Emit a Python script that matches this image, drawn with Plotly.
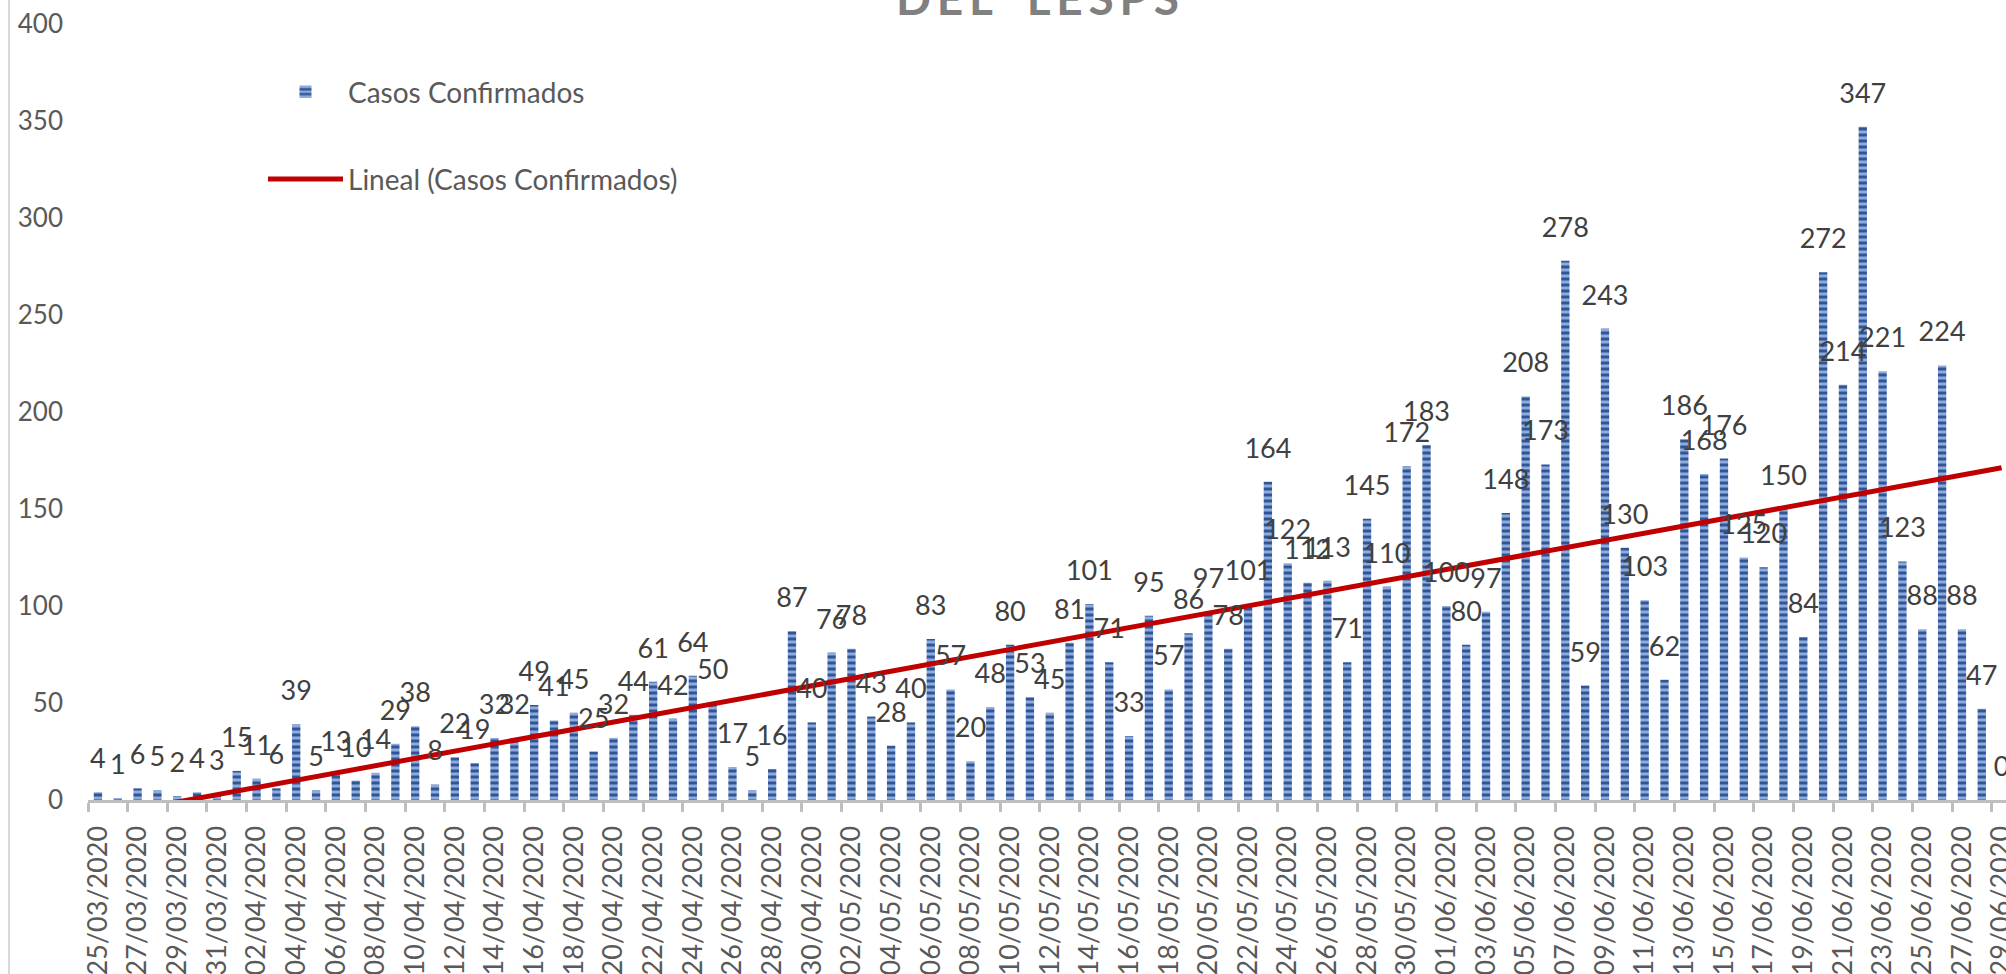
import numpy as np
import plotly.graph_objects as go

march = ["25/03/2020", "26/03/2020", "27/03/2020", "28/03/2020", "29/03/2020", "30/03/2020", "31/03/2020"]
april = ["%02d/04/2020" % d for d in range(1, 31)]
may = ["%02d/05/2020" % d for d in range(1, 32)]
june = ["%02d/06/2020" % d for d in range(1, 30)]
fechas = march + april + may + june

casos = [4, 1, 6, 5, 2, 4, 3, 15, 11, 6, 39, 5, 13, 10, 14, 29, 38, 8, 22, 19,
         32, 32, 49, 41, 45, 25, 32, 44, 61, 42, 64, 50, 17, 5, 16, 87, 40, 76, 78, 43,
         28, 40, 83, 57, 20, 48, 80, 53, 45, 81, 101, 71, 33, 95, 57, 86, 97, 78, 101, 164,
         122, 112, 113, 71, 145, 110, 172, 183, 100, 80, 97, 148, 208, 173, 278, 59, 243, 130, 103, 62,
         186, 168, 176, 125, 120, 150, 84, 272, 214, 347, 221, 123, 88, 224, 88, 47, 0]

serie_barras = "Casos Confirmados"
serie_tendencia = "Lineal (Casos Confirmados)"
titulo = "D\u2009E\u2009L\u2009  \u2009L\u2009E\u2009S\u2009P\u2009S"
y_ticks = [0, 50, 100, 150, 200, 250, 300, 350, 400]

# Linear trend (least squares, x = 1..n as in Excel)
xs = np.arange(1, len(casos) + 1)
m, b = np.polyfit(xs, np.array(casos, dtype=float), 1)
tendencia = (m * xs + b).tolist()

FONT = "Lato, Carlito, Calibri, sans-serif"
GRAY_TXT = "#595959"

W, H = 2006, 974
ML, MR, MT, MB = 88, 0, 24, 174
plot_w = W - ML - MR
plot_h = H - MT - MB
cat_w = 19.83
x_max = plot_w / cat_w - 0.5

fig = go.Figure()
fig.add_trace(go.Bar(
    x=fechas, y=casos, name=serie_barras, legendgroup="a",
    marker=dict(color="#2F5597", line=dict(width=0),
                pattern=dict(shape="-", fillmode="replace", fgcolor="#2F5597",
                             bgcolor="#8FAADC", size=6, solidity=0.5)),
    hoverinfo="x+y",
))
fig.add_trace(go.Scatter(
    x=fechas, y=tendencia, name=serie_tendencia, legendgroup="b", mode="lines",
    line=dict(color="#C00000", width=5),
))
fig.add_trace(go.Scatter(
    x=fechas, y=casos, mode="markers+text", text=[str(v) for v in casos],
    textposition="top center", textfont=dict(family=FONT, size=27, color="#404040"),
    marker=dict(size=26, opacity=0), showlegend=False, hoverinfo="skip", cliponaxis=False,
))

fig.add_annotation(
    text="<b>%s</b>" % titulo, xref="paper", yref="paper", x=(1037 - ML) / plot_w, y=1,
    xanchor="center", yanchor="bottom", yshift=-3, showarrow=False,
    font=dict(family=FONT, size=46, color="#808080"),
)

fig.add_shape(type="line", xref="paper", yref="paper",
              x0=(9 - ML) / plot_w, x1=(9 - ML) / plot_w, y0=-1, y1=2,
              line=dict(color="#D9D9D9", width=2), layer="below")

fig.update_layout(
    width=W, height=H,
    margin=dict(l=ML, r=MR, t=MT, b=MB, pad=0),
    paper_bgcolor="white", plot_bgcolor="white",
    bargap=0.58,
    showlegend=True,
    legend=dict(x=(263 - ML) / plot_w, y=(H - MB - 67) / plot_h, xanchor="left", yanchor="top",
                font=dict(family=FONT, size=28, color=GRAY_TXT),
                bgcolor="rgba(0,0,0,0)", tracegroupgap=48, itemwidth=75),
    xaxis=dict(type="category", range=[-0.5, x_max], tickson="boundaries",
               tickmode="linear", tick0=0, dtick=2,
               ticks="outside", ticklen=9, tickwidth=3, tickcolor="#BFBFBF",
               showline=True, linecolor="#BFBFBF", linewidth=3,
               tickangle=-90, ticklabelstandoff=12,
               tickfont=dict(family=FONT, size=27, color=GRAY_TXT),
               showgrid=False, automargin=False, zeroline=False),
    yaxis=dict(range=[0, 400], tickvals=y_ticks, ticks="", showline=False,
               showgrid=False, zeroline=False, ticklabelstandoff=24,
               tickfont=dict(family=FONT, size=26, color=GRAY_TXT), automargin=False),
)

fig.write_html("out.html", config={"displayModeBar": False},
               post_script="document.body.style.margin='0';document.body.style.padding='0';")
